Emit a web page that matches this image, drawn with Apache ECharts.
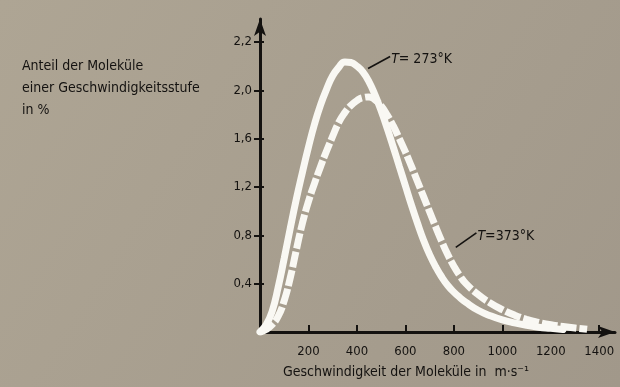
<!DOCTYPE html>
<html lang="de">

<head>
    <meta charset="UTF-8">
    <title>Maxwell-Verteilung</title>
    <style>
        body {
            margin: 0;
        }

        #chart {
            width: 620px;
            height: 387px;
        }
    </style>
</head>

<body>
    <div id="chart"></div>
    <script src="https://cdn.jsdelivr.net/npm/echarts@6/dist/echarts.min.js"></script>
    <script>
        const chart = echarts.init(document.getElementById('chart'));

        // Geschwindigkeit in m/s und Anteil in %
        const speeds273 = [0, 25, 50, 75, 100, 125, 150, 175, 200, 225, 250, 275, 300, 325, 350, 375, 400, 425, 450, 475,
            500, 525, 550, 575, 600, 625, 650, 675, 700, 725, 750, 775, 800, 825, 850, 900, 950, 1000, 1050, 1100, 1150, 1200, 1250];
        const share273 = [0, 0.06, 0.17, 0.37, 0.61, 0.86, 1.10, 1.32, 1.53, 1.72, 1.88, 2.01, 2.12, 2.19, 2.235, 2.23, 2.20, 2.15, 2.07, 1.96,
            1.83, 1.685, 1.53, 1.37, 1.21, 1.05, 0.90, 0.76, 0.64, 0.54, 0.455, 0.385, 0.33, 0.285, 0.245, 0.18, 0.135, 0.10, 0.075, 0.055, 0.04, 0.03, 0.02];

        const speeds373 = [0, 25, 50, 75, 100, 125, 150, 175, 200, 225, 250, 275, 300, 325, 350, 375, 400, 425, 450, 475,
            500, 525, 550, 575, 600, 625, 650, 675, 700, 725, 750, 775, 800, 825, 850, 900, 950, 1000, 1050, 1100, 1150, 1200, 1250, 1300, 1350];
        const share373 = [0, 0.02, 0.06, 0.13, 0.26, 0.45, 0.68, 0.90, 1.08, 1.23, 1.37, 1.50, 1.62, 1.735, 1.815, 1.875, 1.915, 1.94, 1.945, 1.92,
            1.87, 1.795, 1.705, 1.60, 1.49, 1.37, 1.245, 1.12, 0.995, 0.87, 0.75, 0.64, 0.545, 0.465, 0.40, 0.31, 0.24, 0.185, 0.14, 0.105, 0.08, 0.06, 0.045, 0.033, 0.022];

        const xTickValues = [200, 400, 600, 800, 1000, 1200, 1400];
        const xTickLabels = ['200', '400', '600', '800', '1000', '1200', '1400'];
        // die oberste Marke sitzt bei 2,4 ist aber mit 2,2 beschriftet
        const yTickValues = [0.4, 0.8, 1.2, 1.6, 2.0, 2.4];
        const yTickLabels = ['0,4', '0,8', '1,2', '1,6', '2,0', '2,2'];

        const font = 'DejaVu Sans Condensed';
        const ink = '#141210';
        const chalk = '#f9f8f3';

        function pairs (xs, ys) {
            return ys.map((y, i) => [xs[i], y]);
        }

        function label (values, labels) {
            return v => {
                const i = values.findIndex(t => Math.abs(t - v) < 1e-6);
                return i < 0 ? '' : labels[i];
            };
        }

        const option = {
            backgroundColor: new echarts.graphic.LinearGradient(0, 0, 1, 1, [
                { offset: 0, color: '#aea594' },
                { offset: 1, color: '#a1988a' }
            ]),
            animation: false,
            title: {
                text: 'Anteil der Moleküle\neiner Geschwindigkeitsstufe\nin %',
                left: 17,
                top: 50,
                textStyle: {
                    fontFamily: font,
                    fontSize: 14,
                    fontWeight: 'normal',
                    lineHeight: 22,
                    color: ink
                }
            },
            grid: {
                left: 260,
                right: 5,
                top: 19,
                bottom: 55
            },
            xAxis: [
                {
                    type: 'value',
                    min: 0,
                    max: 1465,
                    name: 'Geschwindigkeit der Moleküle in  m·s⁻¹',
                    nameLocation: 'middle',
                    nameGap: 33,
                    nameTextStyle: {
                        fontFamily: font,
                        fontSize: 14,
                        color: ink,
                        padding: [0, 63, 0, 0]
                    },
                    splitLine: { show: false },
                    axisLine: {
                        lineStyle: { color: ink, width: 3 },
                        symbol: ['none', 'arrow'],
                        symbolSize: [9, 17]
                    },
                    axisTick: {
                        inside: true,
                        length: 7,
                        customValues: xTickValues,
                        lineStyle: { color: ink, width: 2 }
                    },
                    axisLabel: {
                        customValues: xTickValues,
                        formatter: label(xTickValues, xTickLabels),
                        margin: 13,
                        fontFamily: font,
                        fontSize: 13,
                        color: ink
                    }
                },
                {
                    type: 'value',
                    min: 0,
                    max: 1465,
                    splitLine: { show: false },
                    axisLine: { show: false },
                    axisLabel: { show: false },
                    axisTick: {
                        length: 3,
                        customValues: xTickValues,
                        lineStyle: { color: ink, width: 2 }
                    }
                }
            ],
            yAxis: [
                {
                    type: 'value',
                    min: 0,
                    max: 2.59,
                    splitLine: { show: false },
                    axisLine: {
                        lineStyle: { color: ink, width: 3 },
                        symbol: ['none', 'arrow'],
                        symbolSize: [9, 17]
                    },
                    axisTick: {
                        length: 6,
                        customValues: yTickValues,
                        lineStyle: { color: ink, width: 2 }
                    },
                    axisLabel: {
                        customValues: yTickValues,
                        formatter: label(yTickValues, yTickLabels),
                        margin: 8,
                        fontFamily: font,
                        fontSize: 13,
                        color: ink
                    }
                },
                {
                    type: 'value',
                    min: 0,
                    max: 2.59,
                    position: 'left',
                    splitLine: { show: false },
                    axisLine: { show: false },
                    axisLabel: { show: false },
                    axisTick: {
                        inside: true,
                        length: 4,
                        customValues: yTickValues,
                        lineStyle: { color: ink, width: 2 }
                    }
                }
            ],
            series: [
                {
                    name: 'T=373 K',
                    type: 'line',
                    data: pairs(speeds373, share373),
                    smooth: 0.5,
                    showSymbol: false,
                    lineStyle: { color: chalk, width: 7, type: [16, 3], cap: 'butt' },
                    z: 1
                },
                {
                    name: 'T=273 K',
                    type: 'line',
                    data: pairs(speeds273, share273),
                    smooth: 0.5,
                    showSymbol: false,
                    lineStyle: { color: chalk, width: 7, cap: 'round' },
                    z: 2
                }
            ]
        };

        chart.setOption(option);

        // Beschriftungen der Kurven mit Hinweisstrich
        const notes = [
            { from: [446, 2.18], to: [537, 2.28], text: '{i|T}= 273°K' },
            { from: [808, 0.70], to: [893, 0.82], text: '{i|T}=373°K' }
        ];

        const elements = [];
        notes.forEach(n => {
            const a = chart.convertToPixel({ gridIndex: 0 }, n.from);
            const b = chart.convertToPixel({ gridIndex: 0 }, n.to);
            elements.push({
                type: 'line',
                shape: { x1: a[0], y1: a[1], x2: b[0], y2: b[1] },
                style: { stroke: ink, lineWidth: 1.6 },
                z: 10
            });
            elements.push({
                type: 'text',
                x: b[0] + 1,
                y: b[1] + 3,
                style: {
                    text: n.text,
                    fontFamily: font,
                    fontSize: 14,
                    fill: ink,
                    align: 'left',
                    verticalAlign: 'middle',
                    rich: {
                        i: { fontStyle: 'italic', fontFamily: font, fontSize: 14, fill: ink }
                    }
                },
                z: 10
            });
        });

        chart.setOption({ graphic: elements });
    </script>
</body>

</html>
